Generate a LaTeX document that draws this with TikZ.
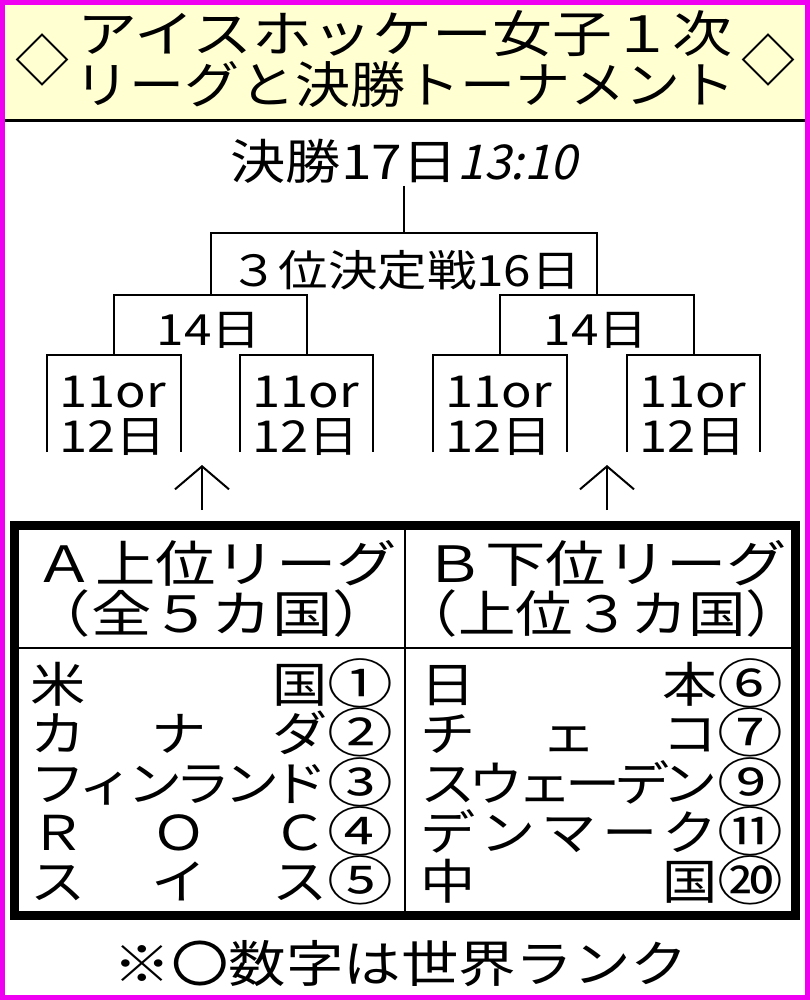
\documentclass[tikz,border=0pt]{standalone}
\usepackage{fontspec}
\usepackage{graphicx}
\setmainfont{Noto Sans CJK JP}[FakeStretch=1.15]
\newfontfamily\jpplain{Noto Sans CJK JP}
\newfontfamily\jpital{Noto Sans CJK JP}[FakeSlant=0.22]
\usetikzlibrary{arrows.meta}
\definecolor{magentaframe}{RGB}{240,0,240}
\definecolor{cream}{RGB}{255,255,210}
\newcommand\fs[1]{\fontsize{#1}{#1}\selectfont}
\newcommand\namebox[1]{\makebox[298pt][s]{#1}}
\newcommand\rk[1]{\scalebox{1.08}[1]{#1}}
\begin{document}
\begin{tikzpicture}[x=1pt,y=-1pt,line width=2pt,
  txt/.style={inner sep=0pt,outer sep=0pt,anchor=base},
  namecell/.style={inner sep=0pt,outer sep=0pt,anchor=base west,font=\fs{48}},
  rankcell/.style={inner sep=0pt,outer sep=0pt,anchor=base,font=\fs{53}},
  bracket/.style={line width=2pt},
  uparrow/.style={line width=2pt,-{Straight Barb[length=23pt,width=54pt]}}]
\useasboundingbox (0,0) rectangle (810,1000);
% frame and header background
\fill[magentaframe] (0,0) rectangle (810,1000);
\fill[white] (5,5) rectangle (805,995);
\fill[cream] (5,5) rectangle (805,120);
\draw[line width=3pt] (5,121) -- (805,121);
% title
\node[inner sep=0pt] (dl) at (42,60) {\jpplain\fs{54}◇};
\node[inner sep=0pt] (dr) at (768,60) {\jpplain\fs{54}◇};
\node[txt] (t1) at (405,53) {\jpplain\fs{50}\scalebox{1.2}[1]{アイスホッケー女子１次}};
\node[txt] (t2) at (405,104) {\jpplain\fs{50}\scalebox{1.1}[1]{リーグと決勝トーナメント}};
% bracket labels
\node[txt] (final) at (404,180) {\fs{48}決勝17日{\jpital 13:10}};
\node[txt] (third) at (405,286) {\fs{43}３位決定戦16日};
\node[txt] (semiL) at (209,345) {\fs{43}14日};
\node[txt] (semiR) at (596,345) {\fs{43}14日};
\foreach \n/\x in {q1/113,q2/306,q3/499,q4/693}{
  \node[txt] (\n a) at (\x,407) {\fs{44}11or};
  \node[txt] (\n b) at (\x,452) {\fs{44}12日};
}
% bracket geometry
\coordinate (finB) at (403.6,186);
\coordinate (j0) at (403.6,233);
\coordinate (tL) at (210.5,295);
\coordinate (tR) at (596.75,295);
\coordinate (sL1) at (114,355);
\coordinate (sL2) at (307,355);
\coordinate (sR1) at (500,355);
\coordinate (sR2) at (693.5,355);
\draw[bracket] (finB) -- (j0);
\draw[bracket] (tL) |- (j0) -| (tR);
\draw[bracket] (sL1) |- (tL) -| (sL2);
\draw[bracket] (sR1) |- (tR) -| (sR2);
\draw[bracket] (47,452) |- (sL1) -| (181,452);
\draw[bracket] (240,452) |- (sL2) -| (373,452);
\draw[bracket] (433,452) |- (sR1) -| (567,452);
\draw[bracket] (627,452) |- (sR2) -| (760,452);
% arrows
\coordinate (aL0) at (202,510);
\coordinate (aL1) at (202,465);
\coordinate (aR0) at (607,510);
\coordinate (aR1) at (607,465);
\draw[uparrow] (aL0) -- (aL1);
\draw[uparrow] (aR0) -- (aR1);
% table
\draw[line width=9pt] (14.5,525.5) rectangle (795.5,915.5);
\draw (405,530) -- (405,911);
\draw (19,648) -- (791,648);
\node[txt] (hA1) at (216,582) {\fs{50}\scalebox{1.05}[1]{Ａ上位リーグ}};
\node[txt] (hA2) at (212,632) {\fs{50}\scalebox{1.05}[1]{（全５カ国）}};
\node[txt] (hB1) at (606,582) {\fs{50}\scalebox{1.05}[1]{Ｂ下位リーグ}};
\node[txt] (hB2) at (602,632) {\fs{50}\scalebox{1.0}[1]{（上位３カ国）}};
% left list
\node[namecell] (a1) at (30,702) {\namebox{米\hss 国}};
\node[namecell] (a2) at (30,751) {\namebox{カ\hss ナ\hss ダ}};
\node[namecell] (a3) at (30,801) {\namebox{フ\hss ィ\hss ン\hss ラ\hss ン\hss ド}};
\node[namecell] (a4) at (30,850) {\namebox{Ｒ\hss Ｏ\hss Ｃ}};
\node[namecell] (a5) at (30,899) {\namebox{ス\hss イ\hss ス}};
\node[rankcell] (r1) at (360,703) {\rk{①}};
\node[rankcell] (r2) at (360,752) {\rk{②}};
\node[rankcell] (r3) at (360,802) {\rk{③}};
\node[rankcell] (r4) at (360,851) {\rk{④}};
\node[rankcell] (r5) at (360,900) {\rk{⑤}};
% right list
\node[namecell] (b1) at (420,702) {\namebox{日\hss 本}};
\node[namecell] (b2) at (420,751) {\namebox{チ\hss ェ\hss コ}};
\node[namecell] (b3) at (420,801) {\namebox{ス\hss ウ\hss ェ\hss ー\hss デ\hss ン}};
\node[namecell] (b4) at (420,850) {\namebox{デ\hss ン\hss マ\hss ー\hss ク}};
\node[namecell] (b5) at (420,899) {\namebox{中\hss 国}};
\node[rankcell] (s1) at (750,703) {\rk{⑥}};
\node[rankcell] (s2) at (750,752) {\rk{⑦}};
\node[rankcell] (s3) at (750,802) {\rk{⑨}};
\node[rankcell] (s4) at (750,851) {\rk{⑪}};
\node[rankcell] (s5) at (750,900) {\rk{⑳}};
% note
\node[txt] (note) at (401,982) {\fs{50}※〇数字は世界ランク};
\end{tikzpicture}
\end{document}
